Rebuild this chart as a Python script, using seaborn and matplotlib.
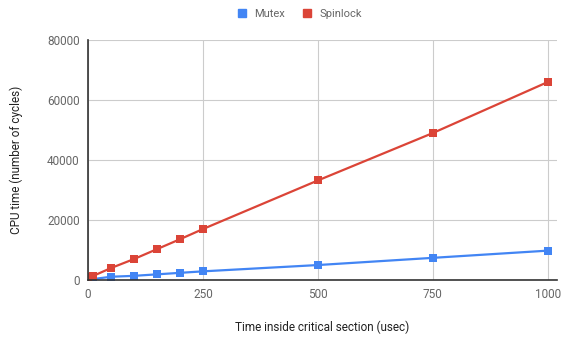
import matplotlib
matplotlib.use("Agg")
import matplotlib.pyplot as plt
import pandas as pd
import seaborn as sns

TIME_USEC = [1, 10, 50, 100, 150, 200, 250, 500, 750, 1000]
MUTEX = [150, 300, 1100, 1400, 1900, 2400, 2900, 5000, 7400, 9800]
SPINLOCK = [900, 1300, 4000, 7000, 10300, 13600, 17000, 33200, 49000, 66000]
SERIES = ["Mutex", "Spinlock"]
COLORS = {"Mutex": "#4285F4", "Spinlock": "#DB4437"}
X_TICKS = [0, 250, 500, 750, 1000]
Y_TICKS = [0, 20000, 40000, 60000, 80000]

data = pd.concat(
    [
        pd.DataFrame({"time": TIME_USEC, "cycles": MUTEX, "lock": "Mutex"}),
        pd.DataFrame({"time": TIME_USEC, "cycles": SPINLOCK, "lock": "Spinlock"}),
    ],
    ignore_index=True,
)

sns.set_style("white")
plt.rcParams["font.family"] = ["Roboto", "DejaVu Sans"]

fig = plt.figure(figsize=(5.63, 3.37), dpi=100)
ax = fig.add_axes([0.1563, 0.169, 0.989 - 0.1563, 0.881 - 0.169])

sns.lineplot(
    data=data,
    x="time",
    y="cycles",
    hue="lock",
    hue_order=SERIES,
    palette=COLORS,
    style="lock",
    markers={"Mutex": "s", "Spinlock": "s"},
    dashes=False,
    linewidth=1.6,
    markersize=6,
    markeredgewidth=0,
    ax=ax,
    legend=False,
    zorder=3,
)

ax.set_xlim(0, 1020)
ax.set_ylim(0, 80000)
ax.set_xticks(X_TICKS)
ax.set_yticks(Y_TICKS)
ax.grid(True, color="#cccccc", linewidth=0.8)
ax.set_axisbelow(True)
for side in ["top", "right"]:
    ax.spines[side].set_visible(False)
for side in ["left", "bottom"]:
    ax.spines[side].set_color("#333333")
    ax.spines[side].set_linewidth(1.2)
    ax.spines[side].set_zorder(4)
ax.tick_params(axis="both", length=0, labelsize=8.5, labelcolor="#666666", pad=6)
ax.set_xlabel("Time inside critical section (usec)", fontsize=8.5, color="#222222", labelpad=14)
ax.set_ylabel("CPU time (number of cycles)", fontsize=8.5, color="#222222", labelpad=17)

handles = [
    plt.Line2D([], [], marker="s", linestyle="", color=COLORS[name], markersize=6)
    for name in SERIES
]
fig.legend(
    handles,
    SERIES,
    loc="center",
    bbox_to_anchor=(0.526, 0.958),
    ncol=2,
    frameon=False,
    fontsize=8,
    labelcolor="#666666",
    handletextpad=0.1,
    columnspacing=1.0,
)

fig.savefig("out.png", dpi=100)
